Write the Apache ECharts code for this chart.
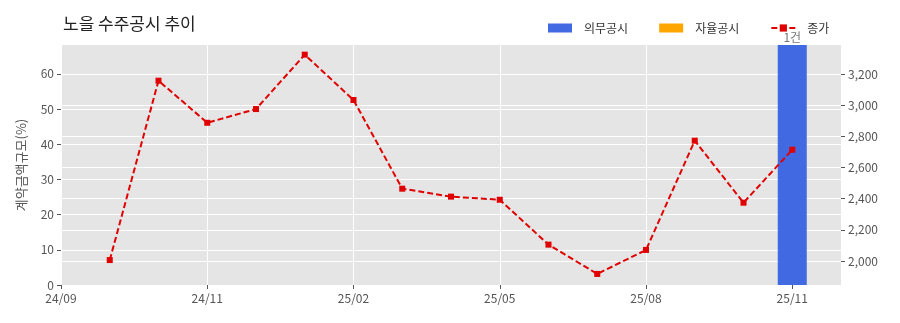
<!DOCTYPE html>
<html>
<head>
<meta charset="utf-8">
<script src="https://cdn.jsdelivr.net/npm/echarts@6/dist/echarts.min.js"></script>
<style>
html,body{margin:0;padding:0;background:#fff;}
#chart{width:900px;height:323px;}
</style>
</head>
<body>
<div id="chart"></div>
<script>
const months = ['24/09','24/10','24/11','24/12','25/01','25/02','25/03','25/04','25/05','25/06','25/07','25/08','25/09','25/10','25/11'];
const closePrice = [2006, 3157, 2887, 2975, 3324, 3033, 2464, 2413, 2393, 2105, 1917, 2071, 2772, 2374, 2714];
const mandatoryPct = [null, null, null, null, null, null, null, null, null, null, null, null, null, null, 68.2];
const voluntaryPct = [null, null, null, null, null, null, null, null, null, null, null, null, null, null, null];
const countLabels = ['', '', '', '', '', '', '', '', '', '', '', '', '', '', '1건'];
const xTickLabels = ['24/09','24/11','25/02','25/05','25/08','25/11'];
const leftTicks = [0, 10, 20, 30, 40, 50, 60];
const rightTicks = [2000, 2200, 2400, 2600, 2800, 3000, 3200];

const FONT = '"Noto Sans CJK KR", "Noto Sans", sans-serif';
const cats = ['start'].concat(months, ['end']);
const pad = arr => [null].concat(arr, [null]);

const chart = echarts.init(document.getElementById('chart'), null, {renderer: 'canvas'});
chart.setOption({
  animation: false,
  textStyle: {fontFamily: FONT},
  title: {
    text: '노을 수주공시 추이',
    left: 58, top: 10,
    textStyle: {fontFamily: FONT, fontSize: 17, fontWeight: 'normal', color: '#222'}
  },
  legend: {
    left: 543, top: 17,
    itemWidth: 24, itemHeight: 9, itemGap: 31,
    textStyle: {fontFamily: FONT, fontSize: 12, color: '#333', padding: [0, 0, 0, 7]},
    data: [
      {name: '의무공시', icon: 'rect'},
      {name: '자율공시', icon: 'rect'},
      {name: '종가'}
    ]
  },
  grid: {
    left: 61, right: 59, top: 45, bottom: 38,
    show: true, backgroundColor: '#e5e5e5', borderWidth: 0
  },
  xAxis: {
    type: 'category',
    data: cats,
    boundaryGap: false,
    axisLine: {show: false},
    axisTick: {show: true, interval: 2, length: 4, lineStyle: {color: '#555'}},
    axisLabel: {
      interval: 2, margin: 7, fontSize: 12, color: '#555', fontFamily: FONT,
      formatter: (v, i) => (i % 3 === 0 ? (xTickLabels[i / 3] || '') : '')
    },
    splitLine: {show: true, interval: 2, lineStyle: {color: '#fff', width: 1}}
  },
  yAxis: [
    {
      type: 'value', min: 0, max: 68.2, position: 'left',
      name: '계약금액규모(%)', nameLocation: 'middle', nameGap: 33,
      nameTextStyle: {fontFamily: FONT, fontSize: 13, color: '#555'},
      axisLine: {show: false},
      axisTick: {show: true, length: 4, lineStyle: {color: '#555'}, customValues: leftTicks},
      axisLabel: {margin: 7, fontSize: 12, color: '#555', fontFamily: FONT, customValues: leftTicks},
      splitLine: {show: true, lineStyle: {color: '#fff', width: 1}}
    },
    {
      type: 'value', min: 1846, max: 3386, position: 'right',
      axisLine: {show: false},
      axisTick: {show: true, length: 4, lineStyle: {color: '#555'}, customValues: rightTicks},
      axisLabel: {
        margin: 7, fontSize: 12, color: '#555', fontFamily: FONT, customValues: rightTicks,
        formatter: v => Number(v).toLocaleString('en-US')
      },
      splitLine: {show: true, lineStyle: {color: '#fff', width: 1}}
    }
  ],
  series: [
    {
      name: '의무공시', type: 'bar', stack: 'disc', yAxisIndex: 0,
      data: pad(mandatoryPct), barWidth: 29,
      itemStyle: {color: '#4169e1'},
      label: {
        show: true, position: 'top', distance: 2, fontSize: 12, color: '#777', fontFamily: FONT,
        formatter: p => countLabels[p.dataIndex - 1] || ''
      }
    },
    {
      name: '자율공시', type: 'bar', stack: 'disc', yAxisIndex: 0,
      data: pad(voluntaryPct), barWidth: 29,
      itemStyle: {color: '#ffa500'}
    },
    {
      name: '종가', type: 'line', yAxisIndex: 1,
      data: pad(closePrice),
      symbol: 'rect', symbolSize: 6,
      itemStyle: {color: '#e00000'},
      lineStyle: {color: '#e00000', width: 2, type: [6, 3]},
      z: 5
    }
  ]
});
</script>
</body>
</html>
